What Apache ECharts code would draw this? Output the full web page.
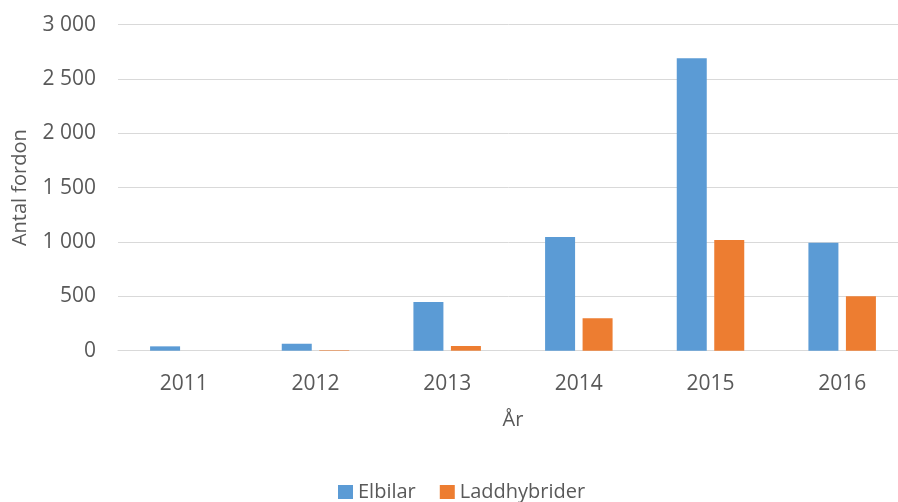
<!DOCTYPE html>
<html>
<head>
<meta charset="utf-8">
<script src="https://cdn.jsdelivr.net/npm/echarts@6/dist/echarts.min.js"></script>
<style>
  html, body { margin: 0; padding: 0; background: #fff; }
  #chart { width: 898px; height: 502px; }
</style>
</head>
<body>
<div id="chart"></div>
<script>
const years = ['2011', '2012', '2013', '2014', '2015', '2016']
const elbilar = [40, 64, 448, 1047, 2690, 992]
const laddhybrider = [0, 5, 43, 298, 1019, 501]

const textColor = '#595959'
const font = '"Open Sans", "Noto Sans", sans-serif'

const chart = echarts.init(document.getElementById('chart'))
chart.setOption({
    animation: false,
    textStyle: { fontFamily: font },
    color: ['#5B9BD5', '#ED7D31'],
    grid: {
        left: 118,
        top: 24.6,
        bottom: 151.3,
        width: 790,
        outerBoundsMode: 'none',
        containLabel: false
    },
    legend: {
        left: 333,
        top: 477,
        itemWidth: 15,
        itemHeight: 14,
        itemGap: 24,
        icon: 'rect',
        textStyle: { fontSize: 20, color: textColor, fontFamily: font },
        data: ['Elbilar', 'Laddhybrider']
    },
    xAxis: {
        type: 'category',
        data: years,
        name: 'År',
        nameLocation: 'middle',
        nameGap: 60,
        nameTextStyle: { fontSize: 20, color: textColor },
        axisLine: { lineStyle: { color: '#D9D9D9', width: 1 } },
        axisTick: { show: false },
        axisLabel: { fontSize: 21, color: textColor, margin: 23 }
    },
    yAxis: {
        type: 'value',
        min: 0,
        max: 3000,
        interval: 500,
        name: 'Antal fordon',
        nameLocation: 'middle',
        nameGap: 88,
        nameTextStyle: { fontSize: 20, color: textColor },
        axisLine: { show: false },
        axisTick: { show: false },
        splitLine: { lineStyle: { color: '#D9D9D9', width: 1 } },
        axisLabel: {
            fontSize: 21,
            color: textColor,
            margin: 22,
            formatter: v => String(v).replace(/\B(?=(\d{3})+(?!\d))/g, ' ')
        }
    },
    series: [
        {
            name: 'Elbilar',
            type: 'bar',
            data: elbilar,
            barWidth: 30,
            barGap: '25%'
        },
        {
            name: 'Laddhybrider',
            type: 'bar',
            data: laddhybrider,
            barWidth: 30,
            barGap: '25%'
        }
    ]
})
</script>
</body>
</html>
